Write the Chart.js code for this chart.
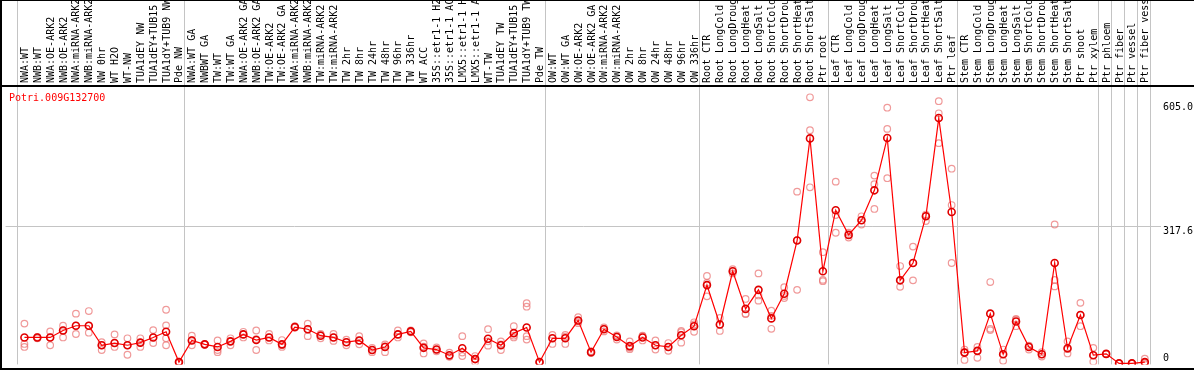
<!DOCTYPE html>
<html>
<head>
<meta charset="utf-8">
<script src="https://cdn.jsdelivr.net/npm/chart.js@4"></script>
<style>
  body { margin: 0; background: #fff; }
  #wrap { width: 1194px; height: 370px; }
</style>
</head>
<body>
<div id="wrap"><canvas id="chart" width="1194" height="370"></canvas></div>
<script>
const geneName = 'Potri.009G132700';

const categories = [
	'NWA:WT', 'NWB:WT', 'NWA:OE-ARK2', 'NWB:OE-ARK2', 'NWA:miRNA-ARK2', 'NWB:miRNA-ARK2', 'NW 0hr', 'WT H2O', 'WT-NW',
	'TUA1dEY NW', 'TUA1dEY+TUB15', 'TUA1dY+TUB9 NW', 'Pde NW',
	'NWA:WT GA', 'NWBWT GA', 'TW:WT', 'TW:WT GA', 'NWA:OE-ARK2 GA', 'NWB:OE-ARK2 GA', 'TW:OE-ARK2', 'TW:OE-ARK2 GA',
	'NWA:miRNA-ARK2', 'NWB:miRNA-ARK2', 'TW:miRNA-ARK2', 'TW:miRNA-ARK2', 'TW 2hr', 'TW 8hr', 'TW 24hr', 'TW 48hr',
	'TW 96hr', 'TW 336hr', 'WT ACC', '35S::etr1-1 H2', '35S::etr1-1 AC', 'LMX5::etr1-1 H', 'LMX5::etr1-1 A', 'WT-TW',
	'TUA1dEY TW', 'TUA1dEY+TUB15', 'TUA1dY+TUB9 TW', 'Pde TW',
	'OW:WT', 'OW:WT GA', 'OW:OE-ARK2', 'OW:OE-ARK2 GA', 'OW:miRNA-ARK2', 'OW:miRNA-ARK2', 'OW 2hr', 'OW 8hr',
	'OW 24hr', 'OW 48hr', 'OW 96hr', 'OW 336hr',
	'Root CTR', 'Root LongCold', 'Root LongDroug', 'Root LongHeat', 'Root LongSalt', 'Root ShortCold', 'Root ShortDrou',
	'Root ShortHeat', 'Root ShortSalt', 'Ptr root',
	'Leaf CTR', 'Leaf LongCold', 'Leaf LongDroug', 'Leaf LongHeat', 'Leaf LongSalt', 'Leaf ShortCold', 'Leaf ShortDrou',
	'Leaf ShortHeat', 'Leaf ShortSalt', 'Ptr leaf',
	'Stem CTR', 'Stem LongCold', 'Stem LongDroug', 'Stem LongHeat', 'Stem LongSalt', 'Stem ShortCold', 'Stem ShortDrou',
	'Stem ShortHeat', 'Stem ShortSalt', 'Ptr shoot', 'Ptr xylem',
	'Ptr phloem', 'Ptr fiber', 'Ptr vessel', 'Ptr fiber vess'
];

// number of samples in each block between the grey separators
const groupSizes = [13, 28, 12, 10, 10, 11, 1, 1, 1, 1];

const meanValues = [
	60, 60, 60, 76, 87, 87, 42, 47, 42, 48, 60, 73, 3,
	53, 44, 38, 51, 67, 54, 60, 44, 84, 79, 64, 60, 49, 53, 31, 38, 67, 74, 36, 32, 19, 35, 10, 57, 42, 70, 83, 3,
	58, 58, 99, 26, 79, 61, 40, 60, 42, 38, 65, 86,
	181, 90, 213, 126, 170, 104, 161, 284, 520, 213,
	354, 297, 331, 400, 521, 192, 232, 340, 567, 350,
	25, 29, 115, 21, 97, 38, 21, 232, 35, 112, 19,
	22, 0, 0, 3
];

const replicateValues = [
	[92, 45, 38], [59, 61, 58], [74, 60, 42], [87, 76, 60], [115, 87, 68], [121, 87, 71], [49, 42, 31],
	[67, 47, 38], [58, 42, 20], [58, 48, 38], [77, 60, 47], [124, 88, 58, 42], [3, 2, 4],
	[64, 42, 54], [43, 45, 44], [53, 31, 26], [58, 42, 51], [73, 60, 67], [76, 31, 56], [68, 53, 60],
	[54, 38, 42], [86, 83, 83], [92, 63, 79], [66, 58, 68], [68, 52, 60], [55, 42, 49], [63, 44, 53],
	[36, 26, 31], [44, 26, 40], [76, 60, 67], [74, 72, 76], [46, 23, 39], [37, 28, 32], [25, 16, 16],
	[63, 17, 25], [17, 3, 10], [79, 51, 41], [51, 31, 44], [86, 60, 64], [139, 131, 63, 55], [3, 2, 4],
	[66, 45, 58], [66, 45, 62], [107, 93, 97], [26, 24, 28], [83, 74, 80], [65, 55, 63], [51, 36, 33],
	[63, 53, 64], [53, 32, 42], [47, 29, 38], [75, 48, 72], [95, 73, 90],
	[202, 155, 186], [105, 75, 90], [218, 208, 213], [149, 115, 114], [208, 145, 157], [122, 80, 110],
	[176, 151, 156], [397, 170, 285], [615, 539, 407], [257, 193, 190],
	[420, 343, 302], [302, 291, 297], [340, 321, 331], [434, 414, 357], [591, 542, 428], [225, 177, 193],
	[270, 192, 232], [344, 329, 341], [606, 578, 509], [450, 366, 232],
	[32, 8, 26], [38, 13, 29], [188, 80, 77], [32, 6, 22], [103, 86, 101], [41, 32, 40], [26, 16, 21],
	[321, 193, 178], [51, 23, 33], [140, 86, 112], [36, 4, 19],
	[22, 22, 22], [0, 0, 0], [0, 0, 0], [11, 2, 0]
];

const yTickValues = [605.0, 317.6, 0];
const yTickLabels = ['605.0', '317.6', '0'];
const yGridValue = 317.6;

const MONO = '10px "DejaVu Sans Mono", "Liberation Mono", monospace';

// frame, sample labels, separators and value labels
const framePlugin = {
	id: 'frame',
	beforeDatasetsDraw(chart) {
		const ctx = chart.ctx;
		const xs = chart.scales.x;
		const ys = chart.scales.y;
		const area = chart.chartArea;
		ctx.save();
		ctx.strokeStyle = '#c4c4c4';
		ctx.lineWidth = 1;
		// separators between sample blocks
		let start = 0;
		const cuts = [start - 0.6];
		groupSizes.forEach(n => { start += n; cuts.push(start - 0.6); });
		cuts.forEach(c => {
			const px = Math.round(xs.getPixelForValue(c)) + 0.5;
			ctx.beginPath();
			ctx.moveTo(px, 0);
			ctx.lineTo(px, area.bottom);
			ctx.stroke();
		});
		// single horizontal grid line
		const gy = Math.round(ys.getPixelForValue(yGridValue)) + 0.5;
		ctx.beginPath();
		ctx.moveTo(area.left, gy);
		ctx.lineTo(1161, gy);
		ctx.stroke();
		ctx.restore();
	},
	afterDraw(chart) {
		const ctx = chart.ctx;
		const xs = chart.scales.x;
		const ys = chart.scales.y;
		const area = chart.chartArea;
		ctx.save();
		ctx.font = MONO;
		ctx.fillStyle = '#000';
		ctx.textAlign = 'left';
		ctx.textBaseline = 'alphabetic';
		categories.forEach((name, i) => {
			const px = xs.getPixelForValue(i);
			ctx.save();
			ctx.translate(px + 3.5, 83);
			ctx.rotate(-Math.PI / 2);
			ctx.fillText(name, 0, 0);
			ctx.restore();
		});
		// value labels on the right
		yTickValues.forEach((v, i) => {
			let py = ys.getPixelForValue(v) + 8;
			if (py > area.bottom - 3) py = area.bottom - 3;
			ctx.fillText(yTickLabels[i], 1163, py);
		});
		// gene name
		ctx.fillStyle = '#ff0000';
		ctx.fillText(geneName, 9, 101);
		// black frame
		ctx.fillStyle = '#000';
		ctx.fillRect(0, 0, 2, 370);
		ctx.fillRect(0, 0, 1194, 1);
		ctx.fillRect(0, 85, 1194, 2);
		ctx.fillRect(0, 368, 1194, 2);
		ctx.restore();
	}
};

function createExpressionChart(target) {
	const meanPoints = meanValues.map((v, i) => ({x: i, y: v}));
	const repPoints = [];
	replicateValues.forEach((reps, i) => reps.forEach(v => repPoints.push({x: i, y: v})));

	return new Chart(target, {
		type: 'scatter',
		data: {
			datasets: [
				{
					label: 'replicates',
					data: repPoints,
					showLine: false,
					pointRadius: 3.3,
					pointBorderWidth: 1.2,
					pointBackgroundColor: 'rgba(0,0,0,0)',
					pointBorderColor: 'rgba(235,120,120,0.75)',
					order: 2
				},
				{
					label: 'mean',
					data: meanPoints,
					showLine: true,
					borderColor: '#ff0000',
					borderWidth: 1.2,
					pointRadius: 3.5,
					pointBorderWidth: 1.6,
					pointBackgroundColor: 'rgba(0,0,0,0)',
					pointBorderColor: '#e00000',
					order: 1
				}
			]
		},
		options: {
			responsive: false,
			animation: false,
			devicePixelRatio: 1,
			layout: { padding: { top: 87, bottom: 1, left: 0, right: 0 } },
			plugins: {
				legend: { display: false },
				tooltip: { enabled: false },
				title: { display: false }
			},
			scales: {
				x: { type: 'linear', display: false, min: -19 / 13, max: -19 / 13 + 1194 / 13 },
				y: { type: 'linear', display: false, min: -2.3, max: 638.8 }
			}
		},
		plugins: [framePlugin]
	});
}

createExpressionChart(document.getElementById('chart'));
</script>
</body>
</html>
